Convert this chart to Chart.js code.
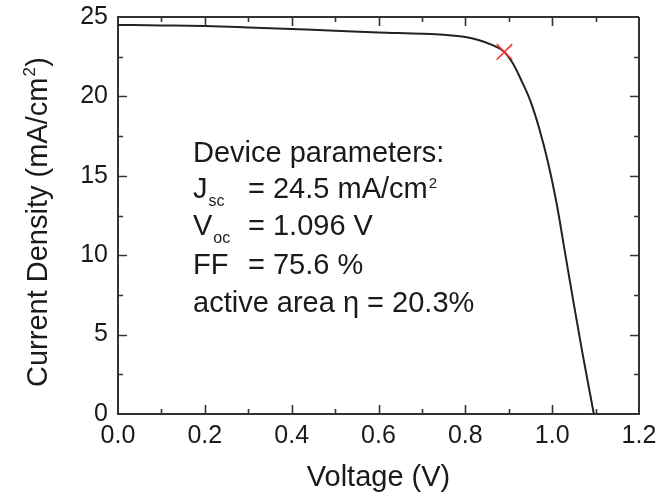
<!DOCTYPE html>
<html>
<head>
<meta charset="utf-8">
<title>J-V curve</title>
<script src="https://cdn.jsdelivr.net/npm/chart.js@4.4.1/dist/chart.umd.min.js"></script>
<style>
  html, body { margin: 0; padding: 0; background: #ffffff; }
  #wrap { width: 664px; height: 494px; }
</style>
</head>
<body>
<div id="wrap"><canvas id="jv" width="664" height="494"></canvas></div>
<script>
// Measured J-V curve under illumination
const voltage = [0, 0.1, 0.2, 0.3, 0.4, 0.5, 0.6, 0.7, 0.75, 0.8, 0.83, 0.86, 0.89,
                 0.91, 0.93, 0.95, 0.97, 0.99, 1.01, 1.03, 1.05, 1.07, 1.096];
const current = [24.5, 24.47, 24.43, 24.34, 24.24, 24.14, 24.03, 23.95, 23.88, 23.74, 23.55, 23.26, 22.8,
                 22.05, 20.95, 19.7, 18.0, 15.9, 13.3, 10.1, 6.9, 3.8, 0];

// Maximum power point
const mppVoltage = [0.89];
const mppCurrent = [22.8];

// Axis ranges and tick steps
const xRange = [0, 1.2];
const yRange = [0, 25];
const xMajorStep = 0.2, xMinorStep = 0.1;
const yMajorStep = 5, yMinorStep = 2.5;

// Parameter block: [label, subscript, value, superscript after value]
const paramLines = [
  ['Device parameters:', '', '', ''],
  ['J', 'sc', '= 24.5 mA/cm', '2'],
  ['V', 'oc', '= 1.096 V', ''],
  ['FF', '', '= 75.6 %', ''],
  ['active area \u03b7 = 20.3%', '', '', '']
];

const FONT = 'Liberation Sans, Arial, Helvetica, sans-serif';
const INK = '#1a1a1a';
const AXIS = '#333333';

// Inward major/minor ticks on all four sides, closing frame, y title and parameter text
const decorations = {
  id: 'decorations',
  afterDraw(chart) {
    const { ctx, chartArea: a, scales: { x, y } } = chart;
    ctx.save();
    ctx.strokeStyle = AXIS;
    ctx.lineWidth = 2;
    ctx.beginPath();
    ctx.moveTo(a.left - 1, Math.round(a.top));
    ctx.lineTo(a.right, Math.round(a.top));
    ctx.moveTo(Math.round(a.right), a.top);
    ctx.lineTo(Math.round(a.right), a.bottom + 1);
    ctx.stroke();

    ctx.lineWidth = 1.6;
    ctx.beginPath();
    const nx = Math.round((xRange[1] - xRange[0]) / xMinorStep);
    for (let i = 1; i < nx; i++) {
      const v = xRange[0] + i * xMinorStep;
      const len = (i % Math.round(xMajorStep / xMinorStep) === 0) ? 9 : 5;
      const px = Math.round(x.getPixelForValue(v)) + 0.5;
      ctx.moveTo(px, a.bottom); ctx.lineTo(px, a.bottom - len);
      ctx.moveTo(px, a.top); ctx.lineTo(px, a.top + len);
    }
    const ny = Math.round((yRange[1] - yRange[0]) / yMinorStep);
    for (let i = 1; i < ny; i++) {
      const v = yRange[0] + i * yMinorStep;
      const len = (i % Math.round(yMajorStep / yMinorStep) === 0) ? 9 : 5;
      const py = Math.round(y.getPixelForValue(v)) + 0.5;
      ctx.moveTo(a.left, py); ctx.lineTo(a.left + len, py);
      ctx.moveTo(a.right, py); ctx.lineTo(a.right - len, py);
    }
    ctx.stroke();

    // y-axis title with superscript
    ctx.fillStyle = INK;
    ctx.textBaseline = 'alphabetic';
    ctx.textAlign = 'left';
    ctx.translate(47, 387);
    ctx.rotate(-Math.PI / 2);
    ctx.font = '29px ' + FONT;
    const t1 = 'Current Density (mA/cm';
    ctx.fillText(t1, 0, 0);
    let w = ctx.measureText(t1).width;
    ctx.font = '17px ' + FONT;
    ctx.fillText('2', w + 1, -12);
    w += ctx.measureText('2').width + 1.5;
    ctx.font = '29px ' + FONT;
    ctx.fillText(')', w, 0);
    ctx.restore();

    // parameter block
    ctx.save();
    ctx.fillStyle = INK;
    ctx.textBaseline = 'alphabetic';
    ctx.textAlign = 'left';
    const baselines = [162, 197.5, 235, 274, 312];
    const x0 = 193, xEq = 248;
    paramLines.forEach(([label, sub, value, sup], i) => {
      const b = baselines[i];
      ctx.font = '29px ' + FONT;
      ctx.fillText(label, x0, b);
      const lw = ctx.measureText(label).width;
      if (sub) {
        ctx.font = '16px ' + FONT;
        ctx.fillText(sub, x0 + lw + 1, b + 8);
      }
      if (value) {
        ctx.font = '29px ' + FONT;
        ctx.fillText(value, xEq, b);
        const vw = ctx.measureText(value).width;
        if (sup) {
          ctx.font = '15px ' + FONT;
          ctx.fillText(sup, xEq + vw + 1, b - 10);
        }
      }
    });
    ctx.restore();
  }
};

const curvePoints = voltage.map((v, i) => ({ x: v, y: current[i] }));
const mppPoints = mppVoltage.map((v, i) => ({ x: v, y: mppCurrent[i] }));

// keep the plot frame exactly where the axis boxes put it
const noOverhang = s => { s.paddingTop = 0; s.paddingBottom = 0; s.paddingLeft = 0; s.paddingRight = 0; };

new Chart(document.getElementById('jv'), {
  type: 'scatter',
  data: {
    datasets: [
      {
        label: 'MPP',
        data: mppPoints,
        showLine: false,
        pointStyle: 'crossRot',
        pointRadius: 11,
        pointHoverRadius: 11,
        borderColor: '#ff3030',
        backgroundColor: '#ff3030',
        pointBorderWidth: 1.6,
        borderWidth: 1.6
      },
      {
        label: 'J-V',
        data: curvePoints,
        showLine: true,
        pointRadius: 0,
        pointHoverRadius: 0,
        borderColor: '#222222',
        borderWidth: 2,
        cubicInterpolationMode: 'monotone',
        fill: false
      }
    ]
  },
  options: {
    responsive: false,
    animation: false,
    devicePixelRatio: 1,
    layout: { padding: { left: 0, right: 25, top: 17, bottom: 0 } },
    plugins: { legend: { display: false }, tooltip: { enabled: false } },
    scales: {
      x: {
        type: 'linear',
        min: xRange[0],
        max: xRange[1],
        grid: { display: false, drawTicks: false },
        border: { display: true, color: AXIS, width: 2 },
        ticks: {
          stepSize: xMajorStep,
          autoSkip: false,
          maxRotation: 0,
          padding: 7,
          color: INK,
          font: { family: FONT, size: 25 },
          callback: v => Number(v).toFixed(1)
        },
        title: {
          display: true,
          text: 'Voltage (V)',
          color: INK,
          font: { family: FONT, size: 29, lineHeight: 1.1 },
          padding: { top: 0, bottom: 0 }
        },
        afterFit: s => { s.height = 80; noOverhang(s); }
      },
      y: {
        type: 'linear',
        min: yRange[0],
        max: yRange[1],
        grid: { display: false, drawTicks: false },
        border: { display: true, color: AXIS, width: 2 },
        ticks: {
          stepSize: yMajorStep,
          padding: 10,
          color: INK,
          font: { family: FONT, size: 25 }
        },
        afterFit: s => { s.width = 118; noOverhang(s); }
      }
    }
  },
  plugins: [decorations]
});
</script>
</body>
</html>
